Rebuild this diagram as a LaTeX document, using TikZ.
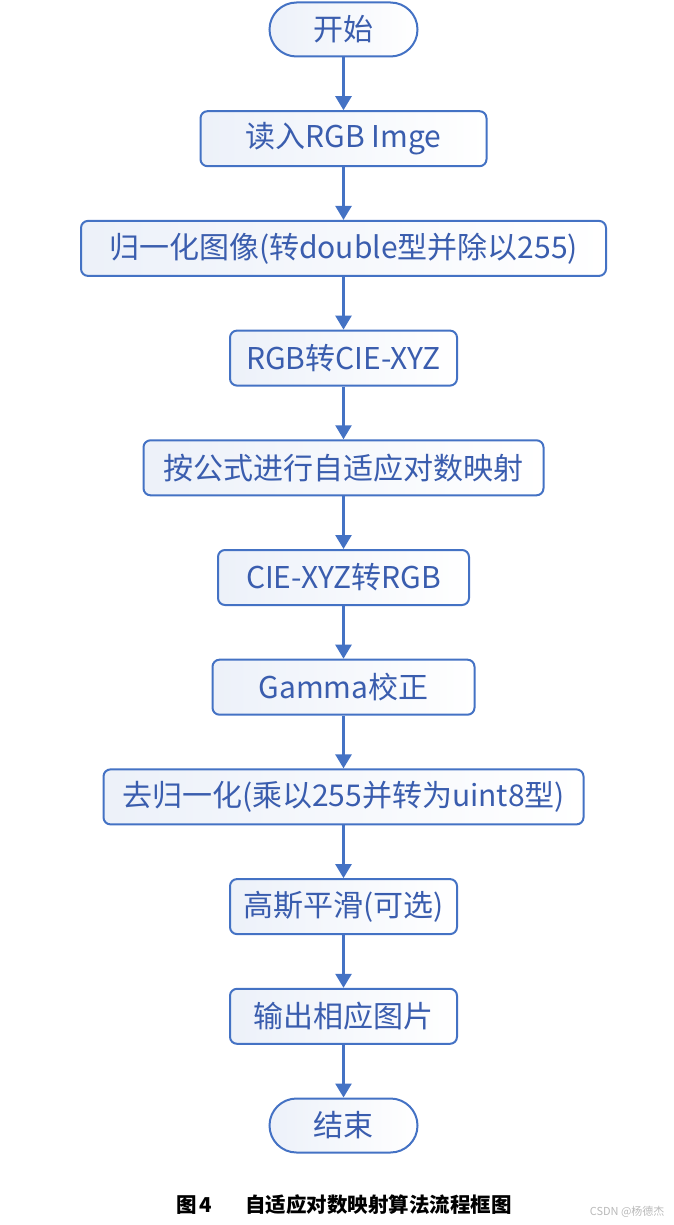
\documentclass[tikz,border=0pt]{standalone}
\usepackage{fontspec}
\setmainfont{Noto Sans CJK SC}
\usepackage{tikz}
\usetikzlibrary{arrows.meta,positioning}

\definecolor{flowline}{HTML}{4472C4}
\definecolor{flowtext}{HTML}{3A5DAE}

\begin{document}
\begin{tikzpicture}[x=1pt,y=-1pt,font=\fontsize{30}{34}\selectfont,
    stepbox/.style={draw=flowline, line width=2pt, rounded corners=7pt, left color=flowline!10!white, right color=white, text=flowtext, minimum height=55pt, inner sep=0pt},
    terminal/.style={stepbox, rounded corners=27pt, minimum width=148pt, minimum height=54pt},
    flow/.style={draw=flowline, line width=2.6pt, -{Triangle[length=14pt,width=16pt]}},
    node distance=52.7pt]
    \useasboundingbox (0,0) rectangle (673,1225);
    \node[terminal] (start) at (343.5,29.5) {开始};
    \node[stepbox, minimum width=286pt, below=of start] (readimg) {读入RGB Imge};
    \node[stepbox, minimum width=525pt, below=of readimg] (normal) {归一化图像(转double型并除以255)};
    \node[stepbox, minimum width=227pt, below=of normal] (toxyz) {RGB转CIE-XYZ};
    \node[stepbox, minimum width=400pt, below=of toxyz] (logmap) {按公式进行自适应对数映射};
    \node[stepbox, minimum width=251pt, below=of logmap] (torgb) {CIE-XYZ转RGB};
    \node[stepbox, minimum width=262pt, below=of torgb] (gamma) {Gamma校正};
    \node[stepbox, minimum width=480pt, below=of gamma] (denormal) {去归一化(乘以255并转为uint8型)};
    \node[stepbox, minimum width=227pt, below=of denormal] (smooth) {高斯平滑(可选)};
    \node[stepbox, minimum width=227pt, below=of smooth] (output) {输出相应图片};
    \node[terminal, below=of output] (stop) {结束};
    % connectors
    \foreach \a/\b in {start/readimg,readimg/normal,normal/toxyz,toxyz/logmap,logmap/torgb,torgb/gamma,gamma/denormal,denormal/smooth,smooth/output,output/stop}
        \draw[flow] (\a) -- (\b);
    \node[font=\fontsize{20.5}{24}\selectfont\bfseries] (caption) at (344,1205) {图\,4\hspace{33pt}自适应对数映射算法流程框图};
    \node[font=\fontsize{11}{13}\selectfont, text=gray!55, anchor=east] (mark) at (668,1212) {CSDN @杨德杰};
\end{tikzpicture}
\end{document}
